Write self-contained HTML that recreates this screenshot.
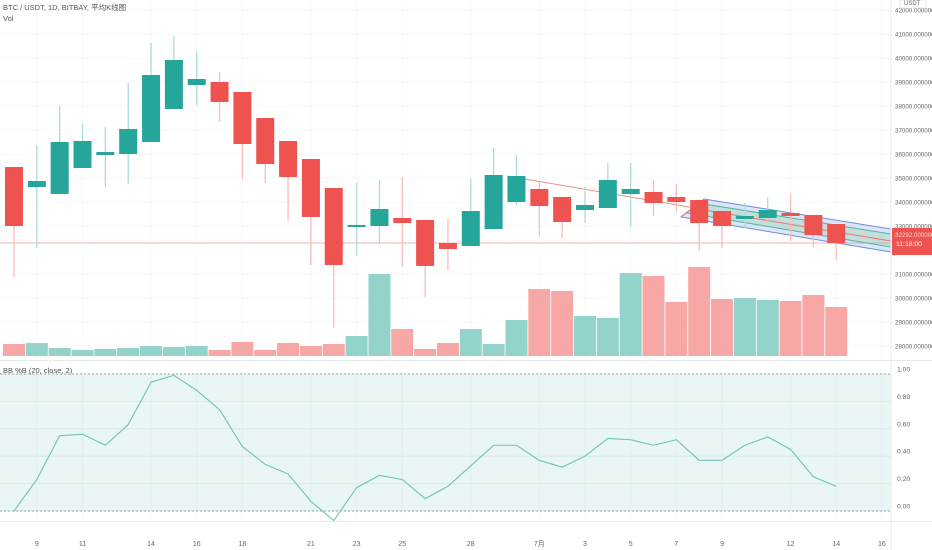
<!DOCTYPE html>
<html><head><meta charset="utf-8">
<style>
html,body{margin:0;padding:0;background:#fff;width:932px;height:550px;overflow:hidden;font-family:"Liberation Sans","Noto Sans CJK SC",sans-serif;}
svg text{font-family:"Liberation Sans","Noto Sans CJK SC",sans-serif;}
</style></head>
<body>
<svg id="chart" width="932" height="550" viewBox="0 0 932 550" xmlns="http://www.w3.org/2000/svg">
  <g id="grid"></g>
  <rect id="bbfill" x="0" y="0" width="891" height="0" fill="rgba(38,166,154,0.1)"/>
  <g id="vol"></g>
  <line id="lastline" x1="0" x2="891" stroke="#f7b3b2" stroke-width="1"/>
  <g id="draw"></g>
  <g id="candles"></g>
  <g id="bb"></g>
  <g id="axes"></g>
  <text x="3" y="10" font-size="7.5" fill="#555">BTC / USDT, 1D, BITBAY, 平均K线图</text>
  <text x="3" y="21" font-size="7.5" fill="#555">Vol</text>
  <text x="3" y="373" font-size="7.5" fill="#555">BB %B (20, close, 2)</text>
</svg>
<script>
const opens  = [35458,34625,34333,35417,35958,36000,36500,37875,38875,39000,38583,37500,36542,35792,34583,33000,33000,33333,33250,32292,32167,32875,34000,34542,34208,33667,33750,34333,34417,34208,34083,33625,33292,33333,33542,33458,33083];
const highs  = [35458,36375,38000,37250,37125,38958,40625,40917,40250,39417,38583,37500,36542,35792,34583,34792,34917,35042,33250,33292,34958,36250,35958,34833,34208,34625,35625,35625,34917,34750,34083,33625,33958,34208,34333,33458,33083];
const lows   = [30875,32083,34333,35417,34625,34750,36500,37875,38042,37333,34958,34792,33208,31375,28750,31750,32250,31292,30042,31167,32167,32875,33875,32583,32500,33125,33750,32958,33417,33583,31958,32083,32917,33167,32375,32125,31583];
const closes = [33000,34875,36500,36542,36083,37042,39292,39917,39125,38167,36417,35583,35042,33375,31375,33042,33708,33125,31333,32042,33625,35125,35083,33833,33167,33875,34917,34542,33958,34000,33125,33000,33417,33667,33417,32625,32292];
const volumes = [12,13,8,6,7,8,10,9,10,6,14,6,13,10,12,20,82,27,7,13,27,12,36,67,65,40,38,83,80,54,89,57,58,56,55,61,49];
const pctB = [0.0,0.23,0.55,0.56,0.48,0.63,0.94,0.99,0.88,0.74,0.47,0.34,0.27,0.07,-0.07,0.17,0.26,0.23,0.09,0.18,0.33,0.48,0.48,0.37,0.32,0.40,0.53,0.52,0.48,0.52,0.37,0.37,0.48,0.54,0.45,0.25,0.18];
const priceTicks = [42000,41000,40000,39000,38000,37000,36000,35000,34000,33000,31000,30000,29000,28000];
const bbTicks = [1.0,0.8,0.6,0.4,0.2,0.0];
const dateLabels = ["9","11","14","16","18","21","23","25","28","7月","3","5","7","9","12","14","16"];
const dateIndex = [1,3,6,8,10,13,15,17,20,23,25,27,29,31,34,36,38];

const NS="http://www.w3.org/2000/svg";
function mk(tag,attrs,parent){const e=document.createElementNS(NS,tag);for(const k in attrs)e.setAttribute(k,attrs[k]);parent.appendChild(e);return e;}
const xOf=i=>14+i*22.84;
const yP=p=>34+(41000-p)*0.024;
const yV=v=>356-v;
const yB=v=>511-v*137;
const G="#26a69a",R="#ef5350";

const grid=document.getElementById('grid');
priceTicks.forEach(p=>{const l=mk('line',{x1:0,x2:891,y1:yP(p),y2:yP(p),stroke:'#f6f7f8'},grid);

});
bbTicks.forEach(v=>{const l=mk('line',{x1:0,x2:891,y1:yB(v),y2:yB(v),stroke:'#eef2f3'},grid);

});
dateIndex.forEach(i=>{const l=mk('line',{x1:xOf(i),x2:xOf(i),y1:0,y2:521,stroke:'#f7f8f9'},grid);

});

const fill=document.getElementById('bbfill');
fill.setAttribute('y',yB(1));fill.setAttribute('height',yB(0)-yB(1));

const vol=document.getElementById('vol');
volumes.forEach((v,i)=>{const up=closes[i]>=opens[i];
const r=mk('rect',{x:xOf(i)-11,y:yV(v),width:22,height:v,fill:up?'#93d3cc':'#f7a8a6'},vol);

});

const last=closes[closes.length-1];
const ll=document.getElementById('lastline');ll.setAttribute('y1',yP(last));ll.setAttribute('y2',yP(last));

const cg=document.getElementById('candles');
opens.forEach((o,i)=>{const c=closes[i],up=c>=o,col=up?G:R,x=xOf(i);
const w=mk('line',{x1:x,x2:x,y1:yP(highs[i]),y2:yP(lows[i]),stroke:up?'#a9ddd8':'#f9bcbb','stroke-width':1.3},cg);


const top=yP(Math.max(o,c)),h=Math.max(2,Math.abs(yP(o)-yP(c)));
const b=mk('rect',{x:x-9,y:top,width:18,height:h,fill:col},cg);

});

// drawings
const d=document.getElementById('draw');
const tl=mk('line',{x1:507,y1:176,x2:695,y2:208,stroke:'#f28b8a','stroke-width':1},d);


const ch=mk('polygon',{points:'704,199 891,229 891,252 681,217',fill:'rgba(120,150,235,0.25)',stroke:'#6a8fd8','stroke-width':1},d);


const chIn=mk('polygon',{points:'698,203 891,234 891,247 687,213',fill:'rgba(140,210,150,0.3)'},d);


[[698,203,891,234,'#4cb89a'],[692,208,891,241,'#f07070'],[687,213,891,247,'#4cb89a']].forEach(a=>{
const l=mk('line',{x1:a[0],y1:a[1],x2:a[2],y2:a[3],stroke:a[4],'stroke-width':1},d);

});
const cl=mk('line',{x1:681,y1:217,x2:704,y2:199,stroke:'#f07070','stroke-width':1},d);



// BB pane
const bb=document.getElementById('bb');
[1,0].forEach(v=>{const l=mk('line',{x1:0,x2:891,y1:yB(v),y2:yB(v),stroke:'#9a9ea8','stroke-dasharray':'2,2'},bb);

});
const pl=mk('polyline',{points:pctB.map((v,i)=>xOf(i)+','+yB(v)).join(' '),fill:'none',stroke:'#6cc4b6','stroke-width':1.1},bb);



// axes
const ax=document.getElementById('axes');
mk('rect',{x:891,y:0,width:41,height:550,fill:'#fff'},ax);
mk('line',{x1:891,x2:891,y1:0,y2:550,stroke:'#e8e9ec'},ax);
mk('line',{x1:0,x2:932,y1:360.5,y2:360.5,stroke:'#e8e9ec'},ax);
mk('line',{x1:0,x2:932,y1:521.5,y2:521.5,stroke:'#e8e9ec'},ax);
priceTicks.forEach(p=>{const t=mk('text',{x:895,y:yP(p)+2.5,'font-size':6.2,fill:'#666'},ax);t.textContent=p.toFixed(6);

});
const ub=mk('rect',{x:900,y:0,width:26,height:8,fill:'#fff',stroke:'#ddd','stroke-width':0.6},ax);


const ut=mk('text',{x:904,y:5,'font-size':6,fill:'#666'},ax);ut.textContent='USDT';


const pb=mk('rect',{x:892,y:228,width:40,height:27,fill:'#ef5350'},ax);


const pt=mk('text',{x:895,y:237,'font-size':6.2,fill:'#fbd0cf'},ax);pt.textContent=last.toFixed(6);


const ct=mk('text',{x:896,y:246,'font-size':6.8,fill:'#fff'},ax);ct.textContent='11:18:00';


bbTicks.forEach(v=>{const t=mk('text',{x:897,y:yB(v)-2.5,'font-size':6.8,fill:'#666'},ax);t.textContent=v.toFixed(2);

});
dateLabels.forEach((s,k)=>{const t=mk('text',{x:xOf(dateIndex[k]),y:546,'font-size':7,fill:'#666','text-anchor':'middle'},ax);t.textContent=s;

});
</script>
</body></html>
